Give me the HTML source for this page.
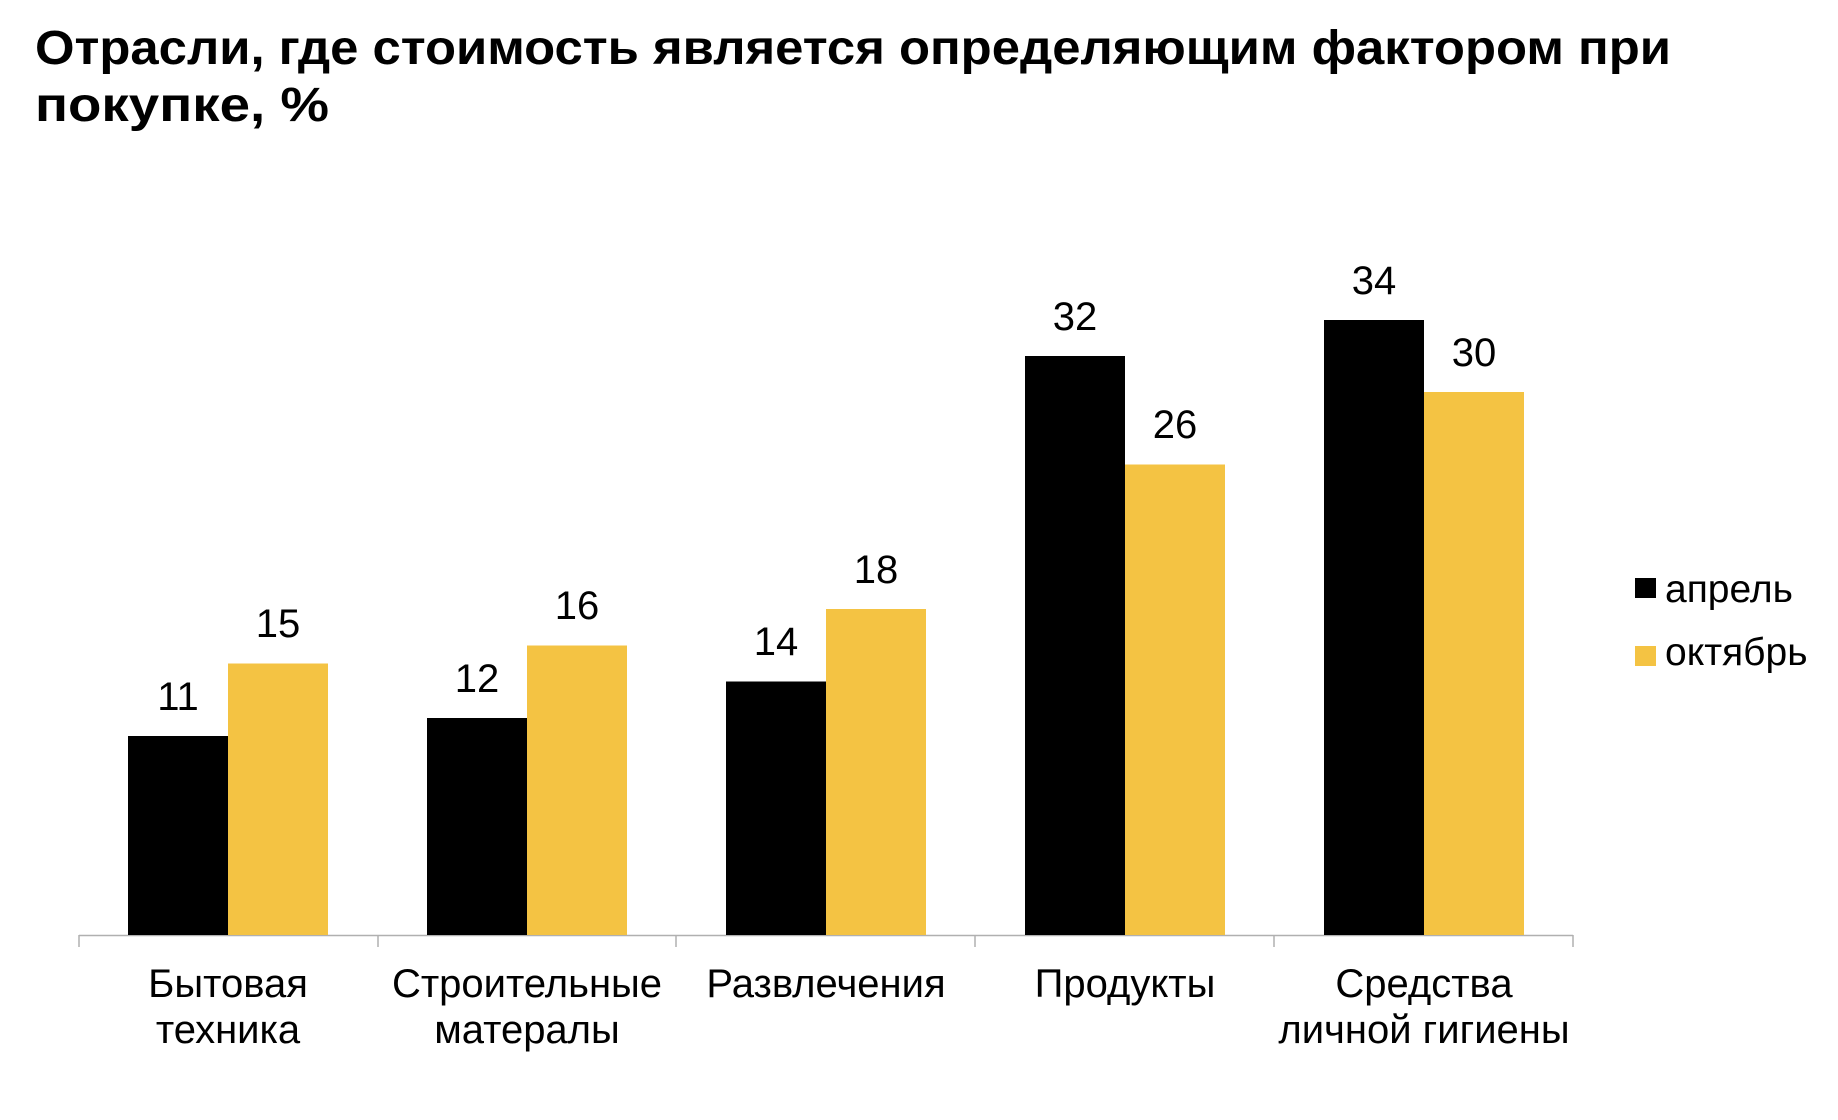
<!DOCTYPE html>
<html><head><meta charset="utf-8"><style>
html,body{margin:0;padding:0;background:#fff;}
svg{display:block;font-family:"Liberation Sans",Arial,sans-serif;}
</style></head><body>
<svg width="1838" height="1120" viewBox="0 0 1838 1120" xmlns="http://www.w3.org/2000/svg">
<text x="35" y="64" font-size="48" font-weight="bold" fill="#000" textLength="1636" lengthAdjust="spacingAndGlyphs">Отрасли, где стоимость является определяющим фактором при</text>
<text x="35" y="121" font-size="48" font-weight="bold" fill="#000" textLength="294" lengthAdjust="spacingAndGlyphs">покупке, %</text>
<line x1="79" y1="935.5" x2="1573" y2="935.5" stroke="#b0b0b0" stroke-width="1.5"/>
<g stroke="#b0b0b0" stroke-width="1.5">
<line x1="79" y1="935" x2="79" y2="947"/><line x1="378" y1="935" x2="378" y2="947"/>
<line x1="676" y1="935" x2="676" y2="947"/><line x1="975" y1="935" x2="975" y2="947"/>
<line x1="1274" y1="935" x2="1274" y2="947"/><line x1="1573" y1="935" x2="1573" y2="947"/>
</g>
<g font-size="40" text-anchor="middle" fill="#000">
<rect x="128" y="736" width="100" height="199" fill="#000"/>
<rect x="228" y="663.5" width="100" height="271.5" fill="#f4c343"/>
<text x="178" y="710">11</text><text x="278" y="637">15</text>
<rect x="427" y="718" width="100" height="217" fill="#000"/>
<rect x="527" y="645.5" width="100" height="289.5" fill="#f4c343"/>
<text x="477" y="692">12</text><text x="577" y="619">16</text>
<rect x="726" y="681.5" width="100" height="253.5" fill="#000"/>
<rect x="826" y="609" width="100" height="326" fill="#f4c343"/>
<text x="776" y="655">14</text><text x="876" y="583">18</text>
<rect x="1025" y="356" width="100" height="579" fill="#000"/>
<rect x="1125" y="464.5" width="100" height="470.5" fill="#f4c343"/>
<text x="1075" y="330">32</text><text x="1175" y="438">26</text>
<rect x="1324" y="320" width="100" height="615" fill="#000"/>
<rect x="1424" y="392" width="100" height="543" fill="#f4c343"/>
<text x="1374" y="294">34</text><text x="1474" y="366">30</text>
<text x="228" y="997">Бытовая</text><text x="228" y="1043">техника</text>
<text x="527" y="997">Строительные</text><text x="527" y="1043">матералы</text>
<text x="826" y="997">Развлечения</text>
<text x="1125" y="997">Продукты</text>
<text x="1424" y="997">Средства</text><text x="1424" y="1043">личной гигиены</text>
</g>
<rect x="1635" y="578" width="21" height="20" fill="#000"/>
<rect x="1635" y="646" width="21" height="20" fill="#f4c343"/>
<text x="1665" y="602" font-size="39" fill="#000">апрель</text>
<text x="1665" y="665" font-size="39" fill="#000">октябрь</text>
</svg>
</body></html>
